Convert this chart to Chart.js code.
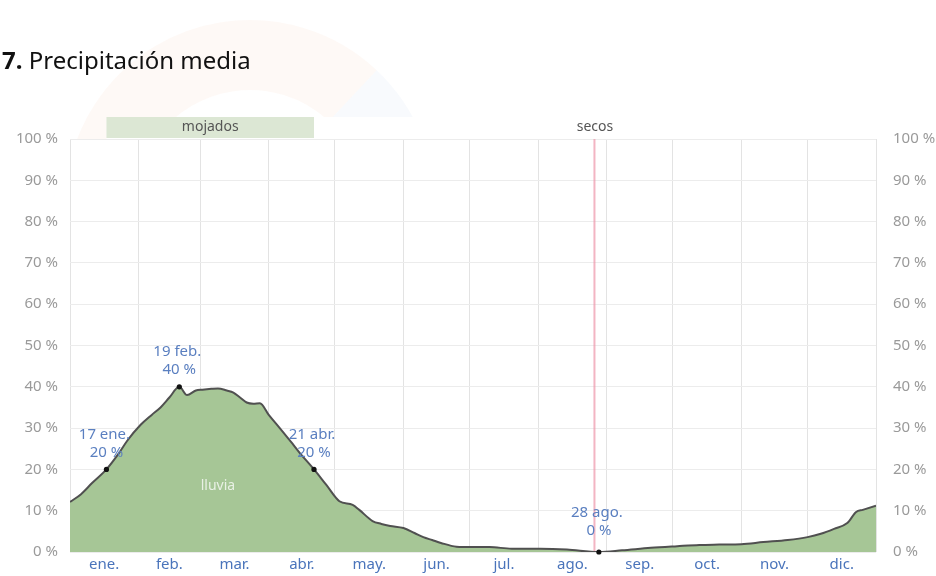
<!DOCTYPE html>
<html><head><meta charset="utf-8">
<script src="https://cdn.jsdelivr.net/npm/chart.js@4"></script>
<style>
html,body{margin:0;padding:0;background:#fff;}
#wrap{position:relative;width:936px;height:576px;overflow:hidden;}
#title{position:absolute;left:2px;top:43px;font-family:'Noto Sans',sans-serif;font-size:24px;color:#111;white-space:nowrap;}
canvas{position:absolute;left:0;top:0;}
</style></head><body>
<div id="wrap"><canvas id="c" width="936" height="576"></canvas><div id="title"><b>7.</b> Precipitación media</div></div>
<script>
// Day of year (0..365) and daily chance of precipitation (%)
const days = [0,5,10,16.5,22,26,32,37,41,45,49.5,53,57,60,64,67,71,74,77,80,83,86,90,95,100,104,110.5,116,122,128,131,137,141,145,151,156,160,164,168,175,182,190,200,213,225,239.5,250,263,275,285,294,304,314,325,334,340,346,352,356,359,365];
const rainPct = [12.1,14.0,16.7,20,23.8,27,30.8,33.2,35,37.4,40,38,39.1,39.3,39.5,39.6,39.1,38.6,37.4,36.2,35.9,36,33.2,30,26.7,24,20,16.3,12.3,11.4,10.2,7.5,6.8,6.3,5.8,4.6,3.6,2.9,2.2,1.3,1.2,1.2,0.8,0.8,0.6,0,0.4,1.0,1.4,1.7,1.8,1.9,2.4,2.9,3.6,4.4,5.6,7.0,9.7,10.2,11.2];
const monthLabels = ['ene.','feb.','mar.','abr.','may.','jun.','jul.','ago.','sep.','oct.','nov.','dic.'];
const monthStarts = [0,31,59,90,120,151,181,212,243,273,304,334,365];
const yTicks = [0,10,20,30,40,50,60,70,80,90,100];
const annotDays = [16.5,49.5,110.5,239.5];
const annotValues = [20,40,20,0];
const annotLabels = [['17 ene.','20 %'],['19 feb.','40 %'],['21 abr.','20 %'],['28 ago.','0 %']];
const seasonNames = ['mojados','secos'];
const seasonStart = [16.5,110.5];
const seasonEnd = [110.5,365];
const markerDay = 237.5;
const seriesName = 'lluvia';
const seriesLabelAt = [67,16];

const monthMids = monthLabels.map((m,i)=>(monthStarts[i]+monthStarts[i+1])/2);
const FONT = "'Noto Sans', sans-serif";

const overlay = {
  id:'overlay',
  beforeDraw(chart){
    const {ctx, chartArea:a} = chart;
    ctx.save();
    // faint watermark above plot
    ctx.beginPath(); ctx.rect(0,0,936,a.top-22); ctx.rect(0,a.top-22,chart.scales.x.getPixelForValue(seasonStart[0]),22); ctx.clip();
    ctx.lineWidth = 70;
    ctx.strokeStyle = 'rgba(240,150,110,0.06)';
    ctx.beginPath(); ctx.arc(250,205,150,Math.PI*0.95,Math.PI*1.74); ctx.stroke();
    ctx.strokeStyle = 'rgba(120,160,220,0.05)';
    ctx.beginPath(); ctx.arc(250,205,150,Math.PI*1.74,Math.PI*2.02); ctx.stroke();
    ctx.restore();
  },
  beforeDatasetsDraw(chart){
    const {ctx, chartArea:a, scales:{x}} = chart;
    ctx.save();
    // season band
    const bTop = a.top-22, bH = 21;
    ctx.font = "14px "+FONT; ctx.textAlign='center'; ctx.textBaseline='middle';
    seasonNames.forEach((n,i)=>{
      const x0 = x.getPixelForValue(seasonStart[i]), x1 = x.getPixelForValue(seasonEnd[i]);
      ctx.fillStyle = i===0 ? '#dce7d4' : '#ffffff';
      ctx.fillRect(x0,bTop,x1-x0,bH);
      ctx.fillStyle = '#555';
      ctx.fillText(n,(x0+x1)/2,bTop+bH/2);
    });
    // marker line
    const mx = x.getPixelForValue(markerDay);
    ctx.strokeStyle = 'rgba(238,150,170,0.7)'; ctx.lineWidth = 2;
    ctx.beginPath(); ctx.moveTo(mx,a.top); ctx.lineTo(mx,a.bottom); ctx.stroke();
    ctx.restore();
  },
  afterDatasetsDraw(chart){
    const {ctx, scales:{x,y}} = chart;
    ctx.save();
    // series label
    ctx.font = "14px "+FONT; ctx.textAlign='center'; ctx.textBaseline='middle';
    ctx.fillStyle = 'rgba(255,255,255,0.75)';
    ctx.fillText(seriesName, x.getPixelForValue(seriesLabelAt[0]), y.getPixelForValue(seriesLabelAt[1]));
    // annotations
    annotDays.forEach((d,i)=>{
      const px = x.getPixelForValue(d), py = y.getPixelForValue(annotValues[i]);
      ctx.fillStyle = '#111';
      ctx.beginPath(); ctx.arc(px,py,2.6,0,Math.PI*2); ctx.fill();
      ctx.font = "15px "+FONT; ctx.fillStyle = '#5a7fc0';
      const off = annotValues[i]===0 ? 4 : 0;
      ctx.fillText(annotLabels[i][0], px-2, py-35-off);
      ctx.fillText(annotLabels[i][1], px, py-17-off);
    });
    ctx.restore();
  }
};

const yAxisBase = {
  type:'linear', min:0, max:100,
  afterBuildTicks(s){ s.ticks = yTicks.map(v=>({value:v})); },
  border:{display:false},
  ticks:{font:{family:FONT,size:15}, color:'#9a9a9a', callback:v=>v+' %'}
};

new Chart(document.getElementById('c'), {
  type:'line',
  data:{datasets:[{
    label:seriesName,
    data: days.map((d,i)=>({x:d,y:rainPct[i]})),
    borderColor:'#505050', borderWidth:2,
    backgroundColor:'rgb(166,198,150)',
    fill:'origin', pointRadius:0, cubicInterpolationMode:'monotone'
  }]},
  options:{
    responsive:false, animation:false,
    layout:{padding:{top:139,left:0,right:0,bottom:0}},
    plugins:{legend:{display:false}, tooltip:{enabled:false}},
    scales:{
      x:{
        type:'linear', min:0, max:365,
        afterBuildTicks(s){ s.ticks = [...monthStarts, ...monthMids].sort((a,b)=>a-b).map(v=>({value:v})); },
        afterFit(s){ s.height = 24; },
        border:{display:false},
        grid:{drawTicks:false, color:c=> (c.tick && monthStarts.includes(c.tick.value)) ? '#e3e3e3' : 'rgba(0,0,0,0)'},
        ticks:{autoSkip:false, maxRotation:0, padding:4, font:{family:FONT,size:15}, color:'#4a74bb',
          callback:v=>{ const i = monthMids.indexOf(v); return i>=0 ? monthLabels[i] : ''; }}
      },
      y:{...yAxisBase, position:'left',
        afterFit(s){ s.width = 70; },
        grid:{drawTicks:false, color:'#ececec'},
        ticks:{...yAxisBase.ticks, padding:12}
      },
      y2:{...yAxisBase, position:'right',
        afterFit(s){ s.width = 60; },
        grid:{display:false},
        ticks:{...yAxisBase.ticks, padding:9}
      }
    }
  },
  plugins:[overlay]
});
</script>
</body></html>
